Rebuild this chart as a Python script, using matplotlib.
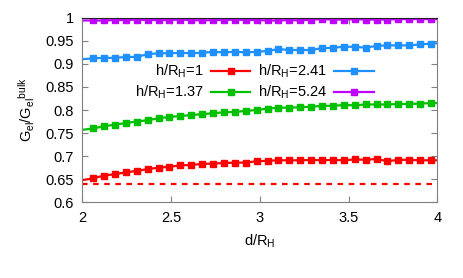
import matplotlib
matplotlib.use("Agg")
import matplotlib.pyplot as plt

plt.rcParams['font.family'] = ['Liberation Sans', 'DejaVu Sans']
plt.rcParams['mathtext.fontset'] = 'custom'
plt.rcParams['mathtext.rm'] = 'Liberation Sans'
plt.rcParams['mathtext.it'] = 'Liberation Sans'
plt.rcParams['mathtext.default'] = 'regular'

# d/R_H sample positions (first point sits on the border, last one just past it)
d = [2.000, 2.061, 2.123, 2.184, 2.246, 2.307, 2.368, 2.430, 2.491, 2.553,
     2.614, 2.675, 2.737, 2.798, 2.860, 2.921, 2.982, 3.044, 3.105, 3.167,
     3.228, 3.289, 3.351, 3.412, 3.474, 3.535, 3.596, 3.658, 3.719, 3.781,
     3.842, 3.903, 3.965, 4.026]

g_h100 = [0.648, 0.652, 0.658, 0.661, 0.665, 0.668, 0.672, 0.675, 0.677, 0.680,
          0.681, 0.683, 0.684, 0.685, 0.686, 0.686, 0.689, 0.690, 0.691, 0.691,
          0.691, 0.692, 0.691, 0.692, 0.691, 0.693, 0.692, 0.694, 0.689, 0.692,
          0.692, 0.691, 0.691, 0.691]
g_h137 = [0.757, 0.760, 0.765, 0.768, 0.772, 0.775, 0.778, 0.782, 0.785, 0.787,
          0.789, 0.791, 0.793, 0.795, 0.796, 0.798, 0.800, 0.803, 0.805, 0.805,
          0.806, 0.807, 0.809, 0.809, 0.811, 0.810, 0.812, 0.812, 0.812, 0.813,
          0.813, 0.814, 0.815, 0.815]
g_h241 = [0.910, 0.912, 0.913, 0.913, 0.915, 0.915, 0.921, 0.923, 0.923, 0.924,
          0.923, 0.924, 0.926, 0.925, 0.926, 0.925, 0.926, 0.928, 0.932, 0.930,
          0.930, 0.930, 0.934, 0.935, 0.937, 0.937, 0.935, 0.939, 0.940, 0.940,
          0.940, 0.942, 0.944, 0.945]
g_h524 = [0.994, 0.994, 0.994, 0.995, 0.995, 0.996, 0.995, 0.995, 0.995, 0.996,
          0.995, 0.994, 0.995, 0.995, 0.996, 0.995, 0.995, 0.994, 0.994, 0.995,
          0.994, 0.996, 0.997, 0.996, 0.996, 0.997, 0.996, 0.996, 0.996, 0.997,
          0.997, 0.997, 0.997, 0.997]
g_limit = 0.639

labels = ['h/R$_H$=1', 'h/R$_H$=1.37', 'h/R$_H$=2.41', 'h/R$_H$=5.24']
colors = ['#ff0000', '#00c000', '#1e90ff', '#c000ff']
series = [g_h100, g_h137, g_h241, g_h524]

fig = plt.figure(figsize=(4.63, 2.78), dpi=100)
ax = fig.add_axes([0.1778, 0.2723, 0.7667, 0.664])

for ys, c, lab in zip(series, colors, labels):
    ax.plot(d, ys, color=c, lw=1.6, marker='s', ms=4.5,
            markevery=slice(1, None), label=lab)

ax.axhline(g_limit, color='#ff0000', lw=1.6, ls=(0, (2.5, 2.5)))

ax.set_xlim(2, 4)
ax.set_ylim(0.6, 1.0)
ax.set_xticks([2, 2.5, 3, 3.5, 4])
ax.set_xticklabels(['2', '2.5', '3', '3.5', '4'])
ax.set_yticks([0.6, 0.65, 0.7, 0.75, 0.8, 0.85, 0.9, 0.95, 1])
ax.set_yticklabels(['0.6', '0.65', '0.7', '0.75', '0.8', '0.85', '0.9', '0.95', '1'])
ax.tick_params(direction='in', length=4, width=0.8, color='#808080',
               labelsize=10.5, top=True, right=True, pad=6)

for s in ['left', 'right', 'bottom']:
    ax.spines[s].set_color('#808080')
ax.spines['top'].set_color('#222222')

ax.set_xlabel('d/R$_H$', fontsize=10.5, labelpad=6)
ax.set_ylabel('G$_{el}$/G$_{el}$$^{bulk}$', fontsize=10.5, labelpad=6)

ax.legend(ncol=2, markerfirst=False, frameon=False, numpoints=1,
          handlelength=2.7, handletextpad=0.5, columnspacing=0.5,
          labelspacing=0.25, fontsize=10.5, borderpad=0,
          loc='center', bbox_to_anchor=(0.549, 0.705),
          bbox_transform=fig.transFigure)

fig.savefig('out.png', dpi=100)
